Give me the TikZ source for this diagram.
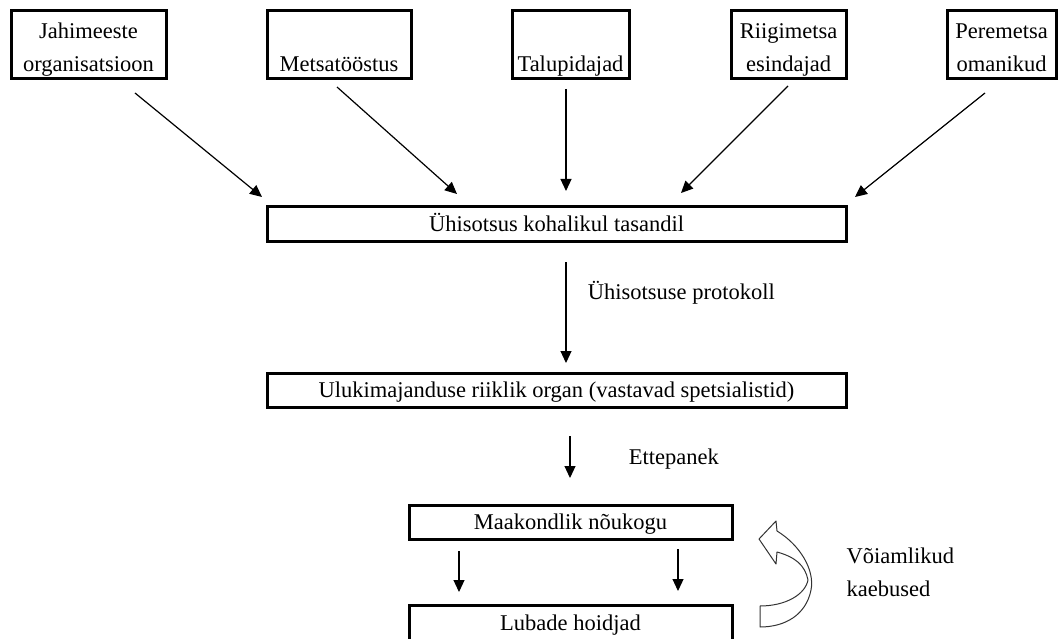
\documentclass[tikz,border=0pt]{standalone}
\usepackage{fontspec}
\setmainfont{Liberation Serif}
\usetikzlibrary{arrows.meta}

\newcommand{\upline}{\rule{0pt}{26pt}}
\newcommand{\lowline}{\rule[-5pt]{0pt}{5pt}}

\begin{document}
\begin{tikzpicture}[x=1pt,y=-1pt,>={Triangle[length=12pt,width=11pt]},
  every node/.style={font=\fontsize{22.5}{33}\selectfont},
  box/.style={draw,line width=3pt,inner sep=0pt,align=center},
  topbox/.style={box,minimum height=68pt},
  widebox/.style={box,minimum height=35pt,text height=17pt,text depth=3pt},
  arr/.style={->,line width=1.2pt}]

  \useasboundingbox (0,0) rectangle (1063,639);

  % top row
  \node[topbox,minimum width=155pt] (jahi)  at (88.5,45)   {\upline Jahimeeste\\organisatsioon\lowline};
  \node[topbox,minimum width=144pt] (mets)  at (339,45)    {\upline\\Metsatööstus\lowline};
  \node[topbox,minimum width=117pt] (talu)  at (570.5,45)  {\upline\\Talupidajad\lowline};
  \node[topbox,minimum width=115pt] (riigi) at (788.5,45)  {\upline Riigimetsa\\esindajad\lowline};
  \node[topbox,minimum width=109pt] (pere)  at (1001.5,45) {\upline Peremetsa\\omanikud\lowline};

  % main column
  \node[widebox,minimum width=579pt] (uhis)  at (556.5,224.5) {Ühisotsus kohalikul tasandil};
  \node[widebox,minimum width=579pt,minimum height=34pt] (uluki) at (556.5,390) {Ulukimajanduse riiklik organ (vastavad spetsialistid)};
  \node[widebox,minimum width=323pt,minimum height=34pt] (maak)  at (570.5,522) {Maakondlik nõukogu};
  \node[widebox,minimum width=323pt,minimum height=37pt] (luba)  at (570.5,623.5) {Lubade hoidjad};

  \node[align=left,anchor=west] (kaeb) at (843,572) {Võiamlikud\\kaebused};

  % free ends of the arrows
  \coordinate (jahi-a)  at (135,93);   \coordinate (jahi-b)  at (262,197);
  \coordinate (mets-a)  at (337,87);   \coordinate (mets-b)  at (457,194);
  \coordinate (talu-a)  at (566,89);   \coordinate (talu-b)  at (566,191);
  \coordinate (riigi-a) at (788,86);   \coordinate (riigi-b) at (681,193);
  \coordinate (pere-a)  at (985,93);   \coordinate (pere-b)  at (855,197);
  \coordinate (uhis-a)  at (566,262);  \coordinate (uhis-b)  at (566,363);
  \coordinate (uluki-a) at (570,436);  \coordinate (uluki-b) at (570,478);
  \coordinate (maak-a)  at (459,551);  \coordinate (maak-b)  at (459,592);
  \coordinate (maak-c)  at (678,549);  \coordinate (maak-d)  at (678,591);

  \path (jahi-a)  edge[arr] (jahi-b)
        (mets-a)  edge[arr] (mets-b)
        (talu-a)  edge[arr] (talu-b)
        (riigi-a) edge[arr] (riigi-b)
        (pere-a)  edge[arr] (pere-b)
        (uhis-a)  edge[arr] node[right=18pt,pos=.3] {Ühisotsuse protokoll} (uhis-b)
        (uluki-a) edge[arr] node[right=55pt,pos=.55] {Ettepanek} (uluki-b)
        (maak-a)  edge[arr] (maak-b)
        (maak-c)  edge[arr] (maak-d);

  % hollow turning arrow
  \draw[line width=1pt,black!80,line join=round]
    (759,539) -- (776,521) -- (777,531)
    .. controls (800,545) and (815,570) .. (811,590)
    .. controls (806,615) and (785,627) .. (760,627) -- (760,606)
    .. controls (785,606) and (805,595) .. (808,580)
    .. controls (805,565) and (795,557) .. (777,552) -- (776,564) -- cycle;
\end{tikzpicture}
\end{document}
